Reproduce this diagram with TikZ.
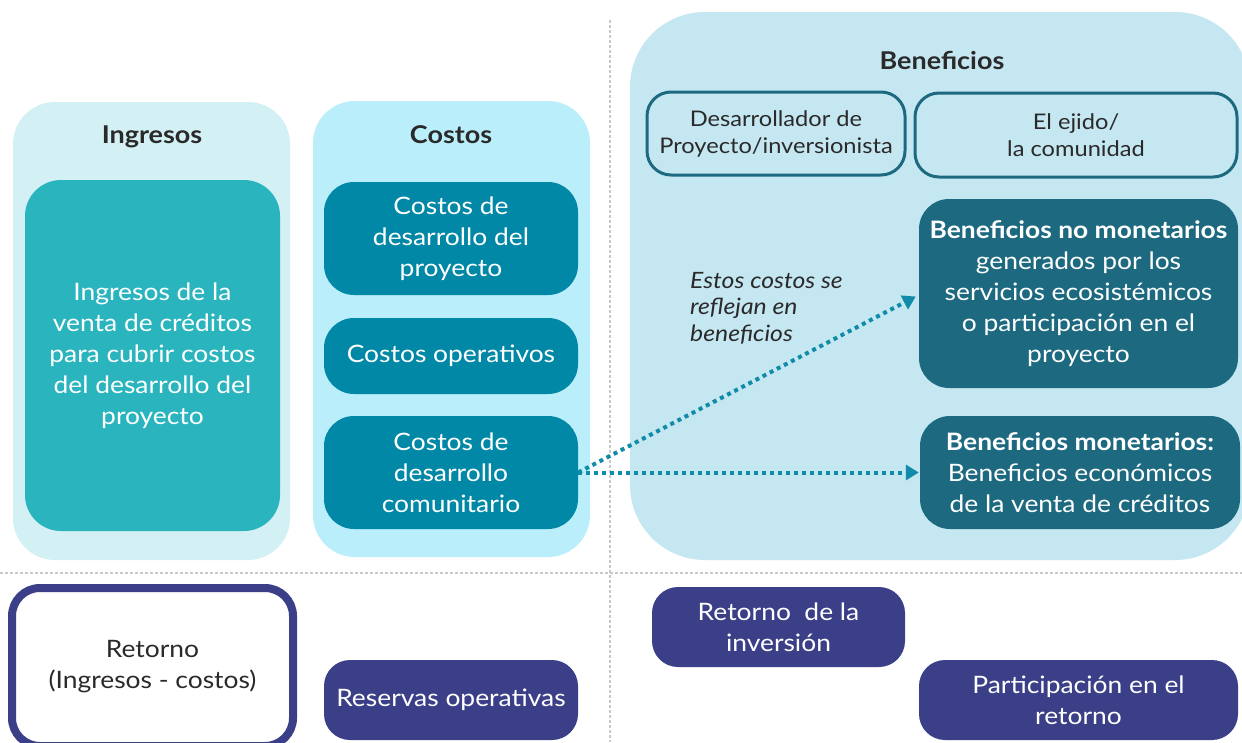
\documentclass[tikz,border=0pt]{standalone}
\usepackage{fontspec}
\setmainfont{Lato}[FakeStretch=1.1]
\usetikzlibrary{arrows.meta}
\definecolor{panelA}{HTML}{D3F1F4}
\definecolor{panelB}{HTML}{B9EEFA}
\definecolor{panelC}{HTML}{C5E7F1}
\definecolor{tealA}{HTML}{2AB5BE}
\definecolor{tealB}{HTML}{0088A6}
\definecolor{tealC}{HTML}{1D6A80}
\definecolor{navy}{HTML}{3A3F87}
\definecolor{arrowc}{HTML}{118CA8}
\definecolor{sepc}{HTML}{C8C8C8}
\definecolor{darktext}{HTML}{2A2A2A}
\tikzset{
  panel/.style={rounded corners=40pt, draw=none},
  fillbox/.style={rounded corners=30pt, draw=none, text=white, align=center, inner sep=0pt,
     font=\fontsize{24}{31}\selectfont},
  outbox/.style={rounded corners=24pt, draw=tealC, line width=3pt, fill=panelC, text=darktext,
     align=center, inner sep=0pt, font=\fontsize{21.5}{27}\selectfont},
  navybox/.style={fillbox, fill=navy, rounded corners=26pt},
  title/.style={font=\fontsize{24.5}{26}\selectfont\bfseries, text=darktext},
  sep/.style={draw=sepc, line width=2.5pt, dash pattern=on 2.5pt off 2.5pt},
  flow/.style={draw=arrowc, line width=4pt, dash pattern=on 4pt off 4pt,
     -{Triangle[length=13pt,width=15pt]}}
}
\begin{document}
\begin{tikzpicture}[x=1pt,y=-1pt]
\useasboundingbox (0,0) rectangle (1242,742);
\fill[white] (0,0) rectangle (1242,742);
% separators
\coordinate (vs1) at (610,20);
\coordinate (vs2) at (610,742);
\coordinate (hs1) at (0,573);
\coordinate (hs2) at (1242,573);
\draw[sep] (vs1) -- (vs2);
\draw[sep] (hs1) -- (hs2);
% panels
\fill[panelA, rounded corners=42pt] (13,102) rectangle (290,560);
\fill[panelB, rounded corners=42pt] (313,101) rectangle (590,557);
\fill[panelC, rounded corners=75pt] (630,12) rectangle (1250,560);
% titles
\node[title] (tIng) at (152,137) {Ingresos};
\node[title] (tCos) at (451,135) {Costos};
\node[title] (tBen) at (942,60) {Beneficios};
% ingresos box
\node[fillbox, fill=tealA, minimum width=255pt, minimum height=351pt, rounded corners=36pt] (ing) at (152.5,355.5)
 {Ingresos de la\\venta de créditos\\para cubrir costos\\del desarrollo del\\proyecto};
% costos boxes
\node[fillbox, fill=tealB, minimum width=254pt, minimum height=113pt] (c1) at (451,238.5)
 {Costos de\\desarrollo del\\proyecto};
\node[fillbox, fill=tealB, minimum width=254pt, minimum height=76pt] (c2) at (451,356)
 {Costos operativos};
\node[fillbox, fill=tealB, minimum width=254pt, minimum height=113pt] (c3) at (451,472.5)
 {Costos de\\desarrollo\\comunitario};
% beneficiaries
\node[outbox, minimum width=258pt, minimum height=83pt] (des) at (776,133.5)
 {Desarrollador de\\Proyecto/inversionista};
\node[outbox, minimum width=322pt, minimum height=84pt] (eji) at (1076,135)
 {El ejido/\\la comunidad};
% beneficios boxes
\node[fillbox, fill=tealC, minimum width=319pt, minimum height=189pt] (bnm) at (1078.5,293.5)
 {\textbf{Beneficios no monetarios}\\generados por los\\servicios ecosistémicos\\o participación en el\\proyecto};
\node[fillbox, fill=tealC, minimum width=320pt, minimum height=113pt] (bm) at (1080,472.5)
 {\textbf{Beneficios monetarios:}\\Beneficios económicos\\de la venta de créditos};
% note
\node[anchor=north west, align=left, text=darktext, inner sep=0pt,
  font=\fontsize{22.5}{26.5}\selectfont\itshape] (note) at (690,272)
 {Estos costos se\\reflejan en\\beneficios};
% arrows
\draw[flow] (c3.east) -- ([xshift=-3pt,yshift=-3pt]bnm.west);
\draw[flow] (c3.east) -- ([xshift=-1pt]bm.west);
% bottom row
\node[draw=navy, line width=8pt, fill=white, rounded corners=28pt, minimum width=281pt,
  minimum height=158pt, inner sep=0pt, align=center, text=darktext,
  font=\fontsize{24}{31}\selectfont] (ret) at (152.5,667)
 {Retorno\\(Ingresos - costos)};
\node[navybox, minimum width=254pt, minimum height=80pt] (res) at (451,700)
 {Reservas operativas};
\node[navybox, minimum width=253pt, minimum height=80pt] (rin) at (778.5,627)
 {Retorno\ \ de la\\inversión};
\node[navybox, minimum width=319pt, minimum height=80pt] (par) at (1078.5,700)
 {Participación en el\\retorno};
\end{tikzpicture}
\end{document}
